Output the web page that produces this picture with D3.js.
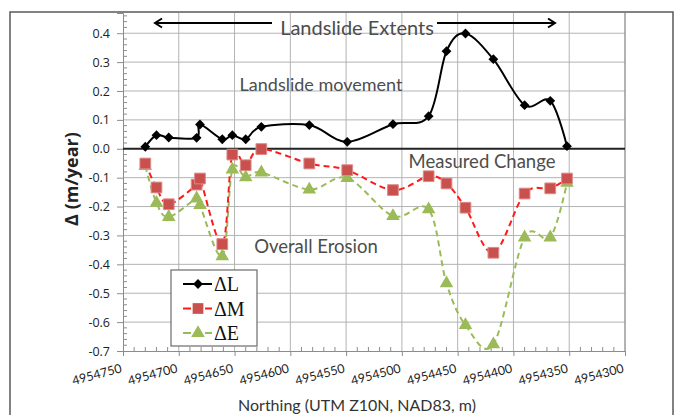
<!DOCTYPE html>
<html lang="en">

<head>
    <meta charset="UTF-8">
    <style>
        body { margin: 0; background: #fff; }
        svg { display: block; }
    </style>
</head>

<body>
    <svg width="685" height="415"></svg>
    <script src="https://d3js.org/d3.v7.min.js"></script>
    <script>
        // values
        let northing = [4954730, 4954720, 4954709, 4954684, 4954681, 4954661, 4954652, 4954640, 4954626, 4954583,
            4954549, 4954508, 4954476, 4954460, 4954443, 4954418, 4954390, 4954367, 4954352]
        let dL = [0.007, 0.047, 0.039, 0.038, 0.084, 0.033, 0.047, 0.033, 0.076, 0.082,
            0.024, 0.085, 0.113, 0.338, 0.399, 0.310, 0.151, 0.166, 0.009]
        let dM = [-0.051, -0.134, -0.192, -0.124, -0.103, -0.330, -0.020, -0.057, -0.001, -0.051,
            -0.074, -0.143, -0.095, -0.120, -0.204, -0.360, -0.155, -0.137, -0.103]
        let dE = [-0.060, -0.187, -0.236, -0.172, -0.195, -0.372, -0.072, -0.099, -0.082, -0.141,
            -0.101, -0.233, -0.210, -0.466, -0.610, -0.677, -0.307, -0.307, -0.118]
        let xTicks = [4954750, 4954700, 4954650, 4954600, 4954550, 4954500, 4954450, 4954400, 4954350, 4954300]
        let yTicks = [0.4, 0.3, 0.2, 0.1, 0.0, -0.1, -0.2, -0.3, -0.4, -0.5, -0.6, -0.7]
        let seriesNames = ["ΔL", "ΔM", "ΔE"]

        let svg = d3.select("svg")
        let pLeft = 123, pRight = 625, pTop = 13, pBottom = 351

        let x = d3.scaleLinear().domain([4954750, 4954300]).range([pLeft, pRight])
        let y = d3.scaleLinear().domain([-0.7, 0.47]).range([pBottom, pTop])

        let textFont = "Lato, 'Open Sans', sans-serif"
        let grey = "#4d4d4d"

        // outer chart frame
        svg.append("path")
            .attr("d", "M10,415 L10,12 L673,12 L673,415")
            .attr("fill", "none")
            .attr("stroke", "#5a5a5a")
            .attr("stroke-width", 1.5)

        // gridlines
        svg.append("g")
            .selectAll("line")
            .data(xTicks.slice(1))
            .enter().append("line")
            .attr("x1", d => x(d)).attr("x2", d => x(d))
            .attr("y1", pTop).attr("y2", pBottom)
            .attr("stroke", "#b3b3b3")
        svg.append("g")
            .selectAll("line")
            .data(yTicks.filter(d => d != 0 && d != -0.7))
            .enter().append("line")
            .attr("x1", pLeft).attr("x2", pRight)
            .attr("y1", d => y(d)).attr("y2", d => y(d))
            .attr("stroke", "#b3b3b3")

        // minor ticks
        let yMinor = d3.range(-0.7, 0.4701, 0.02).filter(v => Math.abs(Math.round(v * 10) - v * 10) > 0.01)
        svg.append("g").selectAll("line")
            .data(yMinor).enter().append("line")
            .attr("x1", pLeft).attr("x2", pLeft + 4)
            .attr("y1", d => y(d)).attr("y2", d => y(d))
            .attr("stroke", "#8c8c8c")
        let xMinor = d3.range(4954740, 4954300, -10).filter(v => v % 50 != 0)
        svg.append("g").selectAll("line")
            .data(xMinor).enter().append("line")
            .attr("x1", d => x(d)).attr("x2", d => x(d))
            .attr("y1", pBottom).attr("y2", pBottom - 4)
            .attr("stroke", "#8c8c8c")

        // axes
        let yAxis = d3.axisLeft(y).tickValues(yTicks).tickSize(6).tickFormat(d3.format(".1f"))
        let gy = svg.append("g").attr("transform", `translate(${pLeft},0)`).call(yAxis)
        gy.select(".domain").attr("stroke", "#8c8c8c")
        gy.selectAll(".tick line").attr("stroke", "#8c8c8c")
        gy.selectAll(".tick text")
            .attr("x", -13)
            .attr("fill", "#222")
            .style("font-family", "'Open Sans', sans-serif")
            .style("font-size", "12.5px")
            .text(d => d3.format(".1f")(d).replace("−", "-"))

        let xAxis = d3.axisBottom(x).tickValues(xTicks).tickSize(5).tickFormat(d3.format("d"))
        let gx = svg.append("g").attr("transform", `translate(0,${pBottom})`).call(xAxis)
        gx.select(".domain").attr("stroke", "#8c8c8c")
        gx.selectAll(".tick line").attr("stroke", "#8c8c8c")
        gx.selectAll(".tick text")
            .attr("y", 0).attr("dy", 0)
            .attr("text-anchor", "end")
            .attr("transform", "translate(-1,21) rotate(-15)")
            .attr("fill", "#222")
            .style("font-family", textFont)
            .style("font-size", "12.5px")

        // plot right border
        svg.append("line")
            .attr("x1", pRight).attr("x2", pRight).attr("y1", pTop).attr("y2", pBottom)
            .attr("stroke", "#8c8c8c")

        // zero line
        svg.append("line")
            .attr("x1", pLeft).attr("x2", pRight).attr("y1", y(0)).attr("y2", y(0))
            .attr("stroke", "#222").attr("stroke-width", 2)

        // axis titles
        svg.append("text")
            .attr("transform", `translate(78,179) rotate(-90)`)
            .attr("text-anchor", "middle")
            .attr("fill", "#222")
            .style("font-family", "'Open Sans', sans-serif")
            .style("font-weight", "bold")
            .style("font-size", "18px")
            .text("Δ (m/year)")
        svg.append("text")
            .attr("x", 357).attr("y", 411)
            .attr("text-anchor", "middle")
            .attr("fill", "#333")
            .style("font-family", textFont)
            .style("font-size", "16px")
            .text("Northing (UTM Z10N, NAD83, m)")

        // annotations
        let notes = [
            { t: "Landslide Extents", x: 357, y: 35, s: 20 },
            { t: "Landslide movement", x: 321, y: 91, s: 18 },
            { t: "Measured Change", x: 482, y: 168, s: 18.5 },
            { t: "Overall Erosion", x: 316, y: 253, s: 18.5 }
        ]
        svg.append("g").selectAll("text")
            .data(notes).enter().append("text")
            .attr("x", d => d.x).attr("y", d => d.y)
            .attr("text-anchor", "middle")
            .attr("fill", grey)
            .style("font-family", textFont)
            .style("font-size", d => d.s + "px")
            .text(d => d.t)

        // extent arrows
        let arrows = [[272, 155], [437, 555]]
        arrows.forEach(function (a) {
            let dir = a[1] > a[0] ? 1 : -1
            svg.append("path")
                .attr("d", `M${a[0]},23 L${a[1]},23 M${a[1] - dir * 7},18.5 L${a[1]},23 L${a[1] - dir * 7},27.5`)
                .attr("fill", "none")
                .attr("stroke", "#000")
                .attr("stroke-width", 2)
        })

        // series
        let curve = d3.curveCardinal.tension(0)
        let diamondTf = " rotate(45)"
        let series = [
            { name: seriesNames[0], vals: dL, stroke: "#000", dash: null, fill: "#000", sym: d3.symbolSquare, size: 48, tf: diamondTf, edge: "none" },
            { name: seriesNames[1], vals: dM, stroke: "#ff1a1a", dash: "6,4", fill: "#c9504d", sym: d3.symbolSquare, size: 115, tf: "", edge: "#dc8a88" },
            { name: seriesNames[2], vals: dE, stroke: "#9bbb59", dash: "6,4", fill: "#9bbb59", sym: d3.symbolTriangle, size: 80, tf: "", edge: "none" }
        ]
        let lineFn = vals => d3.line()
            .x((d, i) => x(northing[i]))
            .y(d => y(d))
            .curve(curve)(vals)

        series.slice().reverse().forEach(function (s) {
            svg.append("path")
                .attr("d", lineFn(s.vals))
                .attr("fill", "none")
                .attr("stroke", s.stroke)
                .attr("stroke-width", 2)
                .attr("stroke-dasharray", s.dash)
        })
        series.slice().reverse().forEach(function (s) {
            svg.append("g").selectAll("path")
                .data(s.vals).enter().append("path")
                .attr("transform", (d, i) => `translate(${x(northing[i])},${y(d)})${s.tf}`)
                .attr("d", d3.symbol().type(s.sym).size(s.size))
                .attr("fill", s.fill)
                .attr("stroke", s.edge)
                .attr("stroke-width", 1)
        })

        // legend
        let lg = svg.append("g").attr("transform", "translate(171,270)")
        lg.append("rect")
            .attr("width", 86).attr("height", 76)
            .attr("fill", "#fff")
            .attr("stroke", "#6b6b6b")
            .attr("stroke-width", 1.2)
        series.forEach(function (s, i) {
            let cy = 14 + i * 24.5
            lg.append("line")
                .attr("x1", 12).attr("x2", 41).attr("y1", cy).attr("y2", cy)
                .attr("stroke", s.stroke).attr("stroke-width", 2)
                .attr("stroke-dasharray", s.dash ? "8,14" : null)
            lg.append("path")
                .attr("transform", `translate(27,${cy})${s.tf}`)
                .attr("d", d3.symbol().type(s.sym).size(s.size))
                .attr("fill", s.fill)
            lg.append("text")
                .attr("x", 43).attr("y", cy + 7)
                .attr("fill", "#111")
                .style("font-family", "'Liberation Serif', 'DejaVu Serif', serif")
                .style("font-size", "20px")
                .text(s.name)
        })
    </script>
</body>

</html>
